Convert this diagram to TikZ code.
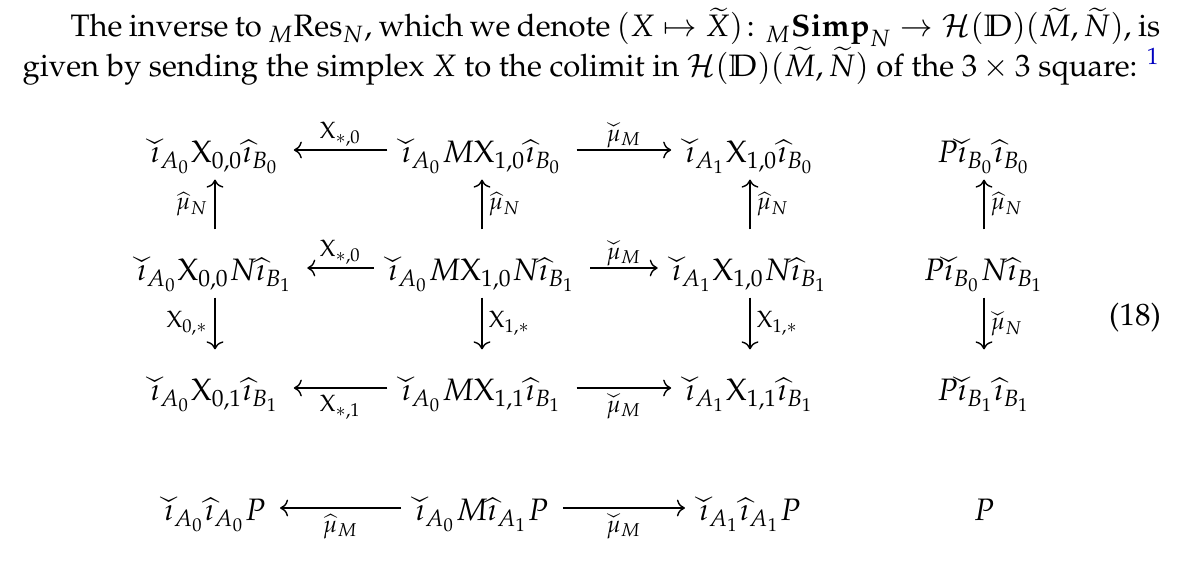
\documentclass[tikz,border=0pt]{standalone}
\usepackage[T1]{fontenc}
\usepackage{amsmath}
\usepackage{amssymb}
\usepackage{mathpazo}
\usepackage{graphicx}
\usetikzlibrary{arrows.meta}
\definecolor{linkblue}{rgb}{0,0,0.75}
\makeatletter
\newcommand{\wchk}[1]{{\mathpalette\wchk@{#1}}}
\newcommand{\wchk@}[2]{%
  \setbox0\hbox{$\m@th#1\widehat{\hphantom{#2}\vphantom{#2}}$}%
  \dimen2=\ht0
  \dimen0=\ifx#1\scriptstyle 0.9pt\else 1.3pt\fi
  \ooalign{$\m@th#1#2\vphantom{\widehat{#2}}$\cr
    \hidewidth\smash{\raisebox{\dimexpr2\dimen2-\dimen0\relax}{\scalebox{1}[-1]{\box0}}}\hidewidth\cr}}
\makeatother

\begin{document}
\begin{tikzpicture}[x=0.3226pt,y=-0.3226pt]
    \tikzset{obj/.style={anchor=base,inner xsep=4.5pt,inner ysep=0pt,text height=16.45pt,text depth=5.16pt},
      map/.style={-{Computer Modern Rightarrow[]},line width=0.45pt},
      hmap/.style={map,transform canvas={yshift=-1.45pt}},
      lab/.style={inner sep=2pt},
      uplab/.style={inner sep=1pt,above}}
    \useasboundingbox (0,0) rectangle (1181,561);
    \node[anchor=base west,inner sep=0pt,text width=367pt,align=justify,font=\linespread{1.05}\selectfont] (intro) at (22,37)
      {\hspace*{15.5pt}The inverse to ${}_M\mathrm{Res}_N$, which we denote $(X\mapsto\widetilde{X})\colon {}_M\mathbf{Simp}_N\to\mathcal{H}(\mathbb{D})(\widetilde{M},\widetilde{N})$, is\linebreak given by sending the simplex $X$ to the colimit in $\mathcal{H}(\mathbb{D})(\widetilde{M},\widetilde{N})$ of the $3\times3$ square: \textsuperscript{\color{linkblue}1}};
    \node[obj] (r1c1) at (215,163) {$\wchk{\imath}_{A_0}\mathrm{X}_{0,0}\widehat{\imath}_{B_0}$};
    \node[obj] (r1c2) at (482,163) {$\wchk{\imath}_{A_0}M\mathrm{X}_{1,0}\widehat{\imath}_{B_0}$};
    \node[obj] (r1c3) at (750,163) {$\wchk{\imath}_{A_1}\mathrm{X}_{1,0}\widehat{\imath}_{B_0}$};
    \node[obj] (r1c4) at (984,163) {$P\wchk{\imath}_{B_0}\widehat{\imath}_{B_0}$};
    \node[obj] (r2c1) at (215,281) {$\wchk{\imath}_{A_0}\mathrm{X}_{0,0}N\widehat{\imath}_{B_1}$};
    \node[obj] (r2c2) at (482,281) {$\wchk{\imath}_{A_0}M\mathrm{X}_{1,0}N\widehat{\imath}_{B_1}$};
    \node[obj] (r2c3) at (750,281) {$\wchk{\imath}_{A_1}\mathrm{X}_{1,0}N\widehat{\imath}_{B_1}$};
    \node[obj] (r2c4) at (984,281) {$P\wchk{\imath}_{B_0}N\widehat{\imath}_{B_1}$};
    \node[obj] (r3c1) at (215,401) {$\wchk{\imath}_{A_0}\mathrm{X}_{0,1}\widehat{\imath}_{B_1}$};
    \node[obj] (r3c2) at (482,401) {$\wchk{\imath}_{A_0}M\mathrm{X}_{1,1}\widehat{\imath}_{B_1}$};
    \node[obj] (r3c3) at (750,401) {$\wchk{\imath}_{A_1}\mathrm{X}_{1,1}\widehat{\imath}_{B_1}$};
    \node[obj] (r3c4) at (984,401) {$P\wchk{\imath}_{B_1}\widehat{\imath}_{B_1}$};
    \node[obj] (r4c1) at (215,521) {$\wchk{\imath}_{A_0}\widehat{\imath}_{A_0}P$};
    \node[obj] (r4c2) at (482,521) {$\wchk{\imath}_{A_0}M\widehat{\imath}_{A_1}P$};
    \node[obj] (r4c3) at (750,521) {$\wchk{\imath}_{A_1}\widehat{\imath}_{A_1}P$};
    \node[obj] (r4c4) at (984,521) {$P$};
    \node (eqno) at (1135,318) {(18)};
    \draw[hmap] (r1c2) -- node[uplab] {$\scriptstyle\mathrm{X}_{*,0}$} (r1c1);
    \draw[hmap] (r1c2) -- node[uplab] {$\scriptstyle\wchk{\mu}_M$} (r1c3);
    \draw[hmap] (r2c2) -- node[uplab] {$\scriptstyle\mathrm{X}_{*,0}$} (r2c1);
    \draw[hmap] (r2c2) -- node[uplab] {$\scriptstyle\wchk{\mu}_M$} (r2c3);
    \draw[hmap] (r3c2) -- node[lab,below] {$\scriptstyle\mathrm{X}_{*,1}$} (r3c1);
    \draw[hmap] (r3c2) -- node[lab,below] {$\scriptstyle\wchk{\mu}_M$} (r3c3);
    \draw[hmap] (r4c2) -- node[lab,below] {$\scriptstyle\widehat{\mu}_M$} (r4c1);
    \draw[hmap] (r4c2) -- node[lab,below] {$\scriptstyle\wchk{\mu}_M$} (r4c3);
    \draw[map] (r2c1) -- node[lab,left] {$\scriptstyle\widehat{\mu}_N$} (r1c1);
    \draw[map] (r2c2) -- node[lab,right] {$\scriptstyle\widehat{\mu}_N$} (r1c2);
    \draw[map] (r2c3) -- node[lab,right] {$\scriptstyle\widehat{\mu}_N$} (r1c3);
    \draw[map] (r2c4) -- node[lab,right] {$\scriptstyle\widehat{\mu}_N$} (r1c4);
    \draw[map] (r2c1) -- node[lab,left] {$\scriptstyle\mathrm{X}_{0,*}$} (r3c1);
    \draw[map] (r2c2) -- node[lab,right] {$\scriptstyle\mathrm{X}_{1,*}$} (r3c2);
    \draw[map] (r2c3) -- node[lab,right] {$\scriptstyle\mathrm{X}_{1,*}$} (r3c3);
    \draw[map] (r2c4) -- node[lab,right] {$\scriptstyle\wchk{\mu}_N$} (r3c4);
\end{tikzpicture}
\end{document}
